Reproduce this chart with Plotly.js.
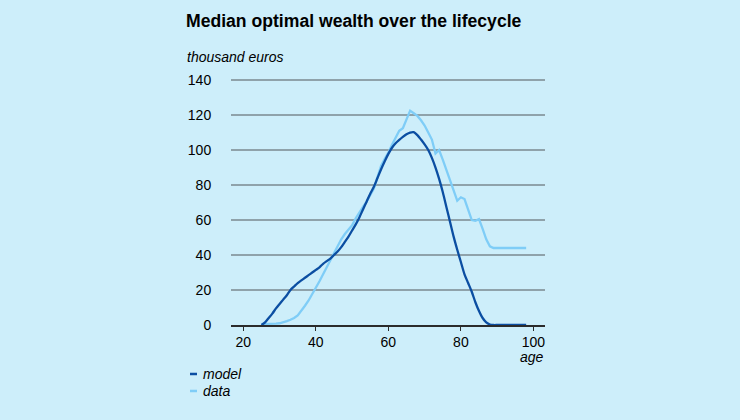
<!DOCTYPE html>
<html>
<head>
<meta charset="utf-8">
<script src="https://cdn.plot.ly/plotly-3.0.1.min.js"></script>
<style>html,body{margin:0;padding:0;background:#cdeefa;}#chart{width:740px;height:420px;}</style>
</head>
<body>
<div id="chart"></div>
<script>
// ages and values (thousand euros)
var modelAge = [25,26,27,28,29,30,31,32,33,34,35,36,37,38,39,40,41,42,43,44,45,46,47,48,49,50,51,52,53,54,55,56,57,58,59,60,61,62,63,64,65,66,67,68,69,70,71,72,73,74,75,76,77,78,79,80,81,82,83,84,85,86,87,88,89,90,91,92,93,94,95,96,97,98];
var modelVal = [0,1.5,4,6.5,9.5,12,14.5,17,20,22,24,25.5,27,28.5,30,31.5,33,35,36.5,38,40,42,44.5,47.5,50.5,54,57.5,61.5,66,70.5,75,79,84,89,93.6,97.8,101.3,103.9,105.8,107.5,109,110,110.2,108.5,106,103.2,100,95.5,90,83.5,76,67.5,59,50.5,43,36,29,24,19,13,8,4,1.5,0.3,0,0,0,0,0,0,0,0,0,0];
var dataAge = [25,26,27,28,29,30,31,32,33,34,35,36,37,38,39,40,41,42,43,44,45,46,47,48,49,50,51,52,53,54,55,56,57,58,59,60,61,62,63,64,65,66,67,68,69,70,71,72,73,74,75,76,77,78,79,80,81,82,83,84,85,86,87,88,89,90,91,92,93,94,95,96,97,98];
var dataVal = [0.5,0.5,0.5,0.6,0.8,1,1.5,2.2,3,4,5.5,8,11,14,17.5,21,25,29,33,37,41.5,45.5,49,52,54.5,57,61,64.5,67.5,70.5,74,78,84.5,91,95,98.5,103,107,111,112.5,117,122.5,121,119.5,117,114,110,106,98,100,94.5,89,83,77,71,73,72,66,60,59.5,60.5,55,49,45,44,44,44,44,44,44,44,44,44,44];
var xTicks = [20,40,60,80,100];
var yTicks = [0,20,40,60,80,100,120,140];

var darkBlue = '#0b4ea2', lightBlue = '#7fcdf7', bg = '#cdeefa';
var font = 'Liberation Sans, Arial, sans-serif';

var traces = [
  {x: dataAge, y: dataVal, type: 'scatter', mode: 'lines', name: 'data',
   line: {color: lightBlue, width: 2.3}, hoverinfo: 'x+y'},
  {x: modelAge, y: modelVal, type: 'scatter', mode: 'lines', name: 'model',
   line: {color: darkBlue, width: 2.3, shape: 'spline', smoothing: 0.8}, hoverinfo: 'x+y'}
];

// pixel helpers for paper coordinates
var L = 231, R = 545, B = 325, Y140 = 80;
var YMAX = 140.6;
var T = B - (B - Y140) * YMAX / 140;
function px(x){ return (x - L) / (R - L); }
function py(y){ return (B - y) / (B - T); }

var layout = {
  width: 740, height: 420,
  paper_bgcolor: bg, plot_bgcolor: bg,
  margin: {l: L, r: 740 - R, t: T, b: 420 - B, pad: 0},
  showlegend: false,
  font: {family: font, size: 14, color: '#000'},
  title: {text: '<b>Median optimal wealth over the lifecycle</b>', xref: 'container', yref: 'container',
          x: 186/740, xanchor: 'left', y: 1 - 21/420, yanchor: 'middle',
          font: {family: font, size: 17.6, color: '#000'}},
  xaxis: {range: [16.6, 103.2], tickvals: xTicks, ticktext: xTicks.map(String),
          showgrid: false, zeroline: false, showline: true, linecolor: '#2b2b2b', linewidth: 1.5,
          ticks: 'outside', ticklen: 4, tickwidth: 1, tickcolor: '#2b2b2b',
          tickfont: {family: font, size: 14, color: '#000'}, fixedrange: true},
  yaxis: {range: [0, YMAX], tickvals: yTicks, ticktext: yTicks.map(String),
          showgrid: true, gridcolor: '#8fa2aa', gridwidth: 1.6, zeroline: false, showline: false,
          ticks: 'outside', ticklen: 16, tickcolor: 'rgba(0,0,0,0)',
          tickfont: {family: font, size: 14, color: '#000'}, fixedrange: true},
  annotations: [
    {text: '<i>thousand euros</i>', xref: 'paper', yref: 'paper', x: px(185), y: py(57),
     xanchor: 'left', yanchor: 'middle', showarrow: false, font: {family: font, size: 14}},
    {text: '<i>age</i>', xref: 'paper', yref: 'paper', x: px(546), y: py(357),
     xanchor: 'right', yanchor: 'middle', showarrow: false, font: {family: font, size: 14}},
    {text: '<i>model</i>', xref: 'paper', yref: 'paper', x: px(201), y: py(374),
     xanchor: 'left', yanchor: 'middle', showarrow: false, font: {family: font, size: 14}},
    {text: '<i>data</i>', xref: 'paper', yref: 'paper', x: px(201), y: py(391),
     xanchor: 'left', yanchor: 'middle', showarrow: false, font: {family: font, size: 14}}
  ],
  shapes: [
    {type: 'line', xref: 'paper', yref: 'paper', x0: px(190), x1: px(197), y0: py(374), y1: py(374),
     line: {color: darkBlue, width: 2.5}},
    {type: 'line', xref: 'paper', yref: 'paper', x0: px(190), x1: px(197), y0: py(391), y1: py(391),
     line: {color: lightBlue, width: 2.5}}
  ]
};

Plotly.newPlot('chart', traces, layout, {displayModeBar: false, staticPlot: true});
</script>
</body>
</html>
